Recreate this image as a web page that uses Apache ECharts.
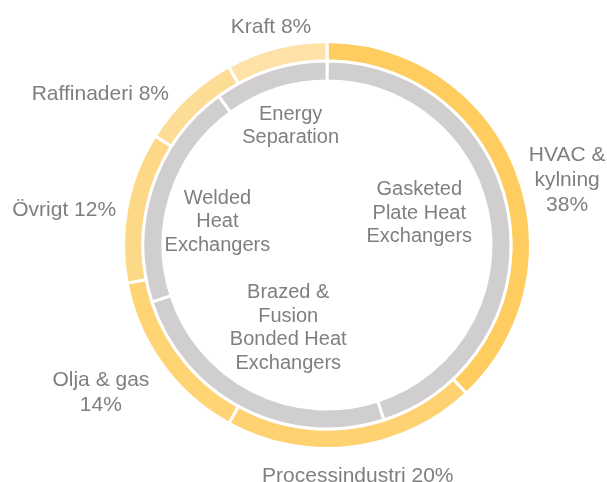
<!DOCTYPE html>
<html>
<head>
<meta charset="utf-8">
<script src="https://cdn.jsdelivr.net/npm/echarts@6/dist/echarts.min.js"></script>
<style>
  html, body { margin: 0; padding: 0; background: #fff; }
  #chart { width: 607px; height: 482px; }
</style>
</head>
<body>
<div id="chart"></div>
<script>
// market segments (outer ring)
var outerNames = ['HVAC &\nkylning', 'Processindustri', 'Olja & gas', 'Övrigt', 'Raffinaderi', 'Kraft'];
var outerValues = [38, 20, 14, 12, 8, 8];
var outerPctNewLine = [true, false, true, false, false, false];
var outerColors = ['#FECC5F', '#FED271', '#FED475', '#FDD987', '#FDDD96', '#FEE2A7'];

// product lines (inner ring)
var innerNames = ['Gasketed\nPlate Heat\nExchangers', 'Brazed &\nFusion\nBonded Heat\nExchangers', 'Welded\nHeat\nExchangers', 'Energy\nSeparation'];
var innerValues = [45, 25, 20, 10];

var CX = 327, CY = 245;
var R_OUT = [184, 203.5];
var R_IN = [164, 184];
var textColor = '#7F7F7F';

// label nudges: [angle shift in degrees, extra radial px]
var outerNudge = [[6.4, -6], [-0.4, 0], [2.8, 8], [-3.2, 4], [-13.2, 0], [0, -5]];
var innerNudge = [[-10, 2], [-2, 2], [-6, 14], [1, 4]];

var chart = echarts.init(document.getElementById('chart'));

// mid angle of slice i (radians, clockwise from 12 o'clock)
function midAngle(values, i){
	var total = 0, cum = 0;
	for(var k = 0; k < values.length; k ++){
		total += values[k];
		if(k < i) cum += values[k];
	}
	return (cum + values[i] / 2) / total * Math.PI * 2;
}

// put the label box just outside (sign=1) or just inside (sign=-1) a radius
function placeLabel(values, nudge, radius, pad, sign){
	return function(params){
		var i = params.dataIndex;
		var a = midAngle(values, i) + nudge[i][0] * Math.PI / 180;
		var u = [Math.sin(a), -Math.cos(a)];
		var w = params.labelRect.width, h = params.labelRect.height;
		var half = Math.abs(u[0]) * w / 2 + Math.abs(u[1]) * h / 2;
		var d = radius + sign * (pad + half) + nudge[i][1];
		return {
			x: CX + u[0] * d,
			y: CY + u[1] * d,
			align: 'center',
			verticalAlign: 'middle'
		};
	};
}

var outerData = [];
for(var i = 0; i < outerNames.length; i ++){
	outerData.push({ name: outerNames[i], value: outerValues[i], itemStyle: { color: outerColors[i] } });
}
var innerData = [];
for(var i = 0; i < innerNames.length; i ++){
	innerData.push({ name: innerNames[i], value: innerValues[i] });
}

chart.setOption({
	animation: false,
	series: [{
		type: 'pie',
		center: [CX, CY],
		radius: R_OUT,
		startAngle: 90,
		avoidLabelOverlap: false,
		itemStyle: { borderColor: '#fff', borderWidth: 3 },
		label: {
			show: true,
			position: 'outside',
			color: textColor,
			fontFamily: 'Liberation Sans',
			fontSize: 21,
			lineHeight: 25,
			align: 'center',
			formatter: function(p){
				return p.name + (outerPctNewLine[p.dataIndex] ? '\n' : ' ') + p.value + '%';
			}
		},
		labelLine: { show: false },
		labelLayout: placeLabel(outerValues, outerNudge, 202, 6, 1),
		emphasis: { disabled: true },
		data: outerData
	}, {
		type: 'pie',
		center: [CX, CY],
		radius: R_IN,
		startAngle: 90,
		avoidLabelOverlap: false,
		itemStyle: { color: '#D0CECF', borderColor: '#fff', borderWidth: 3 },
		label: {
			show: true,
			position: 'outside',
			color: textColor,
			fontFamily: 'Liberation Sans',
			fontSize: 20,
			lineHeight: 23.5,
			align: 'center'
		},
		labelLine: { show: false },
		labelLayout: placeLabel(innerValues, innerNudge, 165, 8, -1),
		emphasis: { disabled: true },
		data: innerData
	}]
});
</script>
</body>
</html>
